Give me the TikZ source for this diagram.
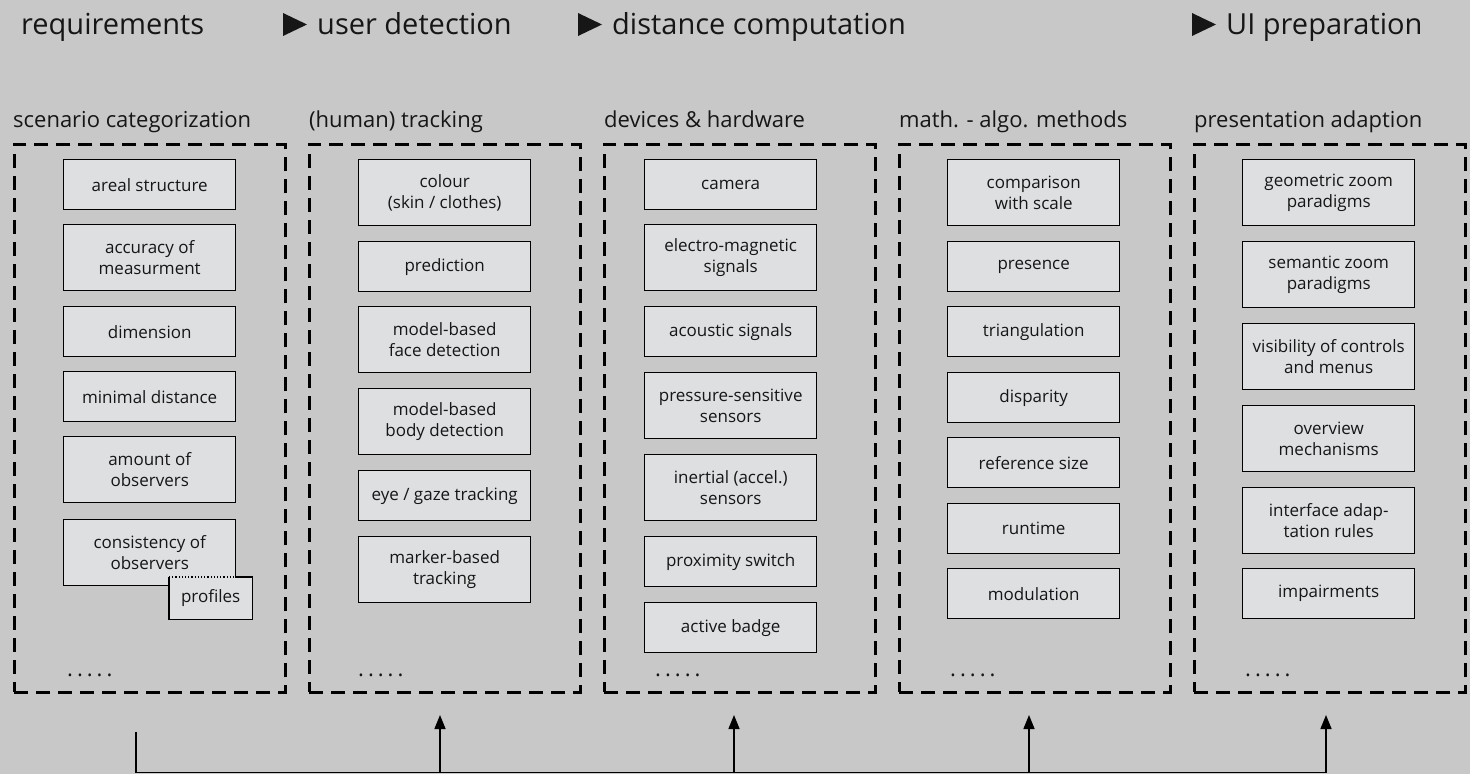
\documentclass[tikz,border=0pt]{standalone}
\usepackage{fontspec}
\setmainfont{Open Sans}
\usetikzlibrary{arrows.meta}
\definecolor{bg}{HTML}{C8C8C8}
\definecolor{boxfill}{HTML}{DEDFE1}
\definecolor{ink}{HTML}{161616}
\newcommand{\fivedots}{.\hspace{4pt}.\hspace{4pt}.\hspace{4pt}.\hspace{4pt}.}
\tikzset{
  item/.style={draw=black, line width=1.4pt, fill=boxfill, text=ink, inner sep=0pt,
    minimum width=172pt, align=center, anchor=north west,
    font=\fontsize{17}{21.5}\selectfont},
  short/.style={item, minimum height=50pt},
  tall/.style={item, minimum height=66pt},
  frame/.style={draw=black, line width=2.6pt, dash pattern=on 14pt off 8pt,
    minimum width=271pt, minimum height=548pt, anchor=north west, inner sep=0pt},
  lab/.style={anchor=base west, inner sep=0pt, text=ink, font=\fontsize{22}{25}\selectfont},
  hdr/.style={anchor=base west, inner sep=0pt, text=ink, font=\fontsize{29}{32}\selectfont},
  tri/.style={fill=ink},
  dots/.style={anchor=base west, inner sep=0pt, text=ink, font=\fontsize{22}{24}\selectfont},
  conn/.style={draw=black, line width=1.5pt},
  arr/.style={conn, -{Triangle[length=14pt,width=11pt]}},
}
\begin{document}
\begin{tikzpicture}[x=1pt,y=-1pt]
\fill[bg] (0,0) rectangle (1470,774);
\useasboundingbox (0,0) rectangle (1470,774);

% headers
\node[hdr] (h1) at (21,34) {requirements};
\node[hdr] (h2) at (317,34) {user detection};
\node[hdr] (h3) at (612,34) {distance computation};
\node[hdr] (h4) at (1226,34) {UI preparation};
\fill[tri] ([xshift=-34pt]h2.base west) ++(0,2) -- ++(0,-23) -- ++(24,11.5) -- cycle;
\fill[tri] ([xshift=-34pt]h3.base west) ++(0,2) -- ++(0,-23) -- ++(24,11.5) -- cycle;
\fill[tri] ([xshift=-34pt]h4.base west) ++(0,2) -- ++(0,-23) -- ++(24,11.5) -- cycle;

% column labels
\node[lab] (l1) at (13,127) {scenario categorization};
\node[lab] (l2) at (309,127) {(human) tracking};
\node[lab] (l3) at (604,127) {devices \& hardware};
\node[lab] (l4) at (899,127) {math. - algo. methods};
\node[lab] (l5) at (1194,127) {presentation adaption};

% frames
\node[frame] (f1) at (13,143) {};
\node[frame] (f2) at (308,143) {};
\node[frame] (f3) at (603,143) {};
\node[frame] (f4) at (898,143) {};
\node[frame] (f5) at (1193,143) {};

% column 1
\node[short] (c1a) at (63,159) {areal structure};
\node[tall]  (c1b) at (63,224) {accuracy of\\measurment};
\node[short] (c1c) at (63,306) {dimension};
\node[short] (c1d) at (63,371) {minimal distance};
\node[tall]  (c1e) at (63,436) {amount of\\observers};
\node[tall]  (c1f) at (63,519) {consistency of\\observers};
\node[item, minimum width=82pt, minimum height=41pt, draw=none] (prof) at (169,577) {profiles};
\draw[line width=1.4pt] (c1f.south east |- prof.north) -- (prof.north east) -- (prof.south east) -- (prof.south west) -- (prof.north west);
\draw[line width=1.2pt, dotted] (prof.north west) -- (c1f.south east |- prof.north);
\node[dots] (d1) at (67,676) {\fivedots};

% column 2
\node[tall]  (c2a) at (358,159) {colour\\(skin / clothes)};
\node[short] (c2b) at (358,241) {prediction};
\node[tall]  (c2c) at (358,306) {model-based\\face detection};
\node[tall]  (c2d) at (358,388) {model-based\\body detection};
\node[short] (c2e) at (358,470) {eye / gaze tracking};
\node[tall]  (c2f) at (358,536) {marker-based\\tracking};
\node[dots] (d2) at (358,676) {\fivedots};

% column 3
\node[short] (c3a) at (644,159) {camera};
\node[tall]  (c3b) at (644,224) {electro-magnetic\\signals};
\node[short] (c3c) at (644,306) {acoustic signals};
\node[tall]  (c3d) at (644,372) {pressure-sensitive\\sensors};
\node[tall]  (c3e) at (644,454) {inertial (accel.)\\sensors};
\node[short] (c3f) at (644,536) {proximity switch};
\node[short] (c3g) at (644,602) {active badge};
\node[dots] (d3) at (655,676) {\fivedots};

% column 4
\node[tall]  (c4a) at (947,159) {comparison\\with scale};
\node[short] (c4b) at (947,241) {presence};
\node[short] (c4c) at (947,306) {triangulation};
\node[short] (c4d) at (947,372) {disparity};
\node[short] (c4e) at (947,437) {reference size};
\node[short] (c4f) at (947,503) {runtime};
\node[short] (c4g) at (947,568) {modulation};
\node[dots] (d4) at (950,676) {\fivedots};

% column 5
\node[tall]  (c5a) at (1242,159) {geometric zoom\\paradigms};
\node[tall]  (c5b) at (1242,241) {semantic zoom\\paradigms};
\node[tall]  (c5c) at (1242,323) {visibility of controls\\and menus};
\node[tall]  (c5d) at (1242,405) {overview\\mechanisms};
\node[tall]  (c5e) at (1242,487) {interface adap-\\tation rules};
\node[short] (c5f) at (1242,568) {impairments};
\node[dots] (d5) at (1245,676) {\fivedots};

% connectors
\coordinate (src) at (136,732);
\coordinate (corner) at (136,772.5);
\coordinate (b2) at (440,772.5);
\coordinate (b3) at (734,772.5);
\coordinate (b4) at (1029,772.5);
\coordinate (b5) at (1326,772.5);
\coordinate (t2) at (440,715);
\coordinate (t3) at (734,715);
\coordinate (t4) at (1029,715);
\coordinate (t5) at (1326,715);
\draw[conn] (src) -- (corner) -- (b5);
\draw[arr] (b2) -- (t2);
\draw[arr] (b3) -- (t3);
\draw[arr] (b4) -- (t4);
\draw[arr] (b5) -- (t5);
\end{tikzpicture}
\end{document}
